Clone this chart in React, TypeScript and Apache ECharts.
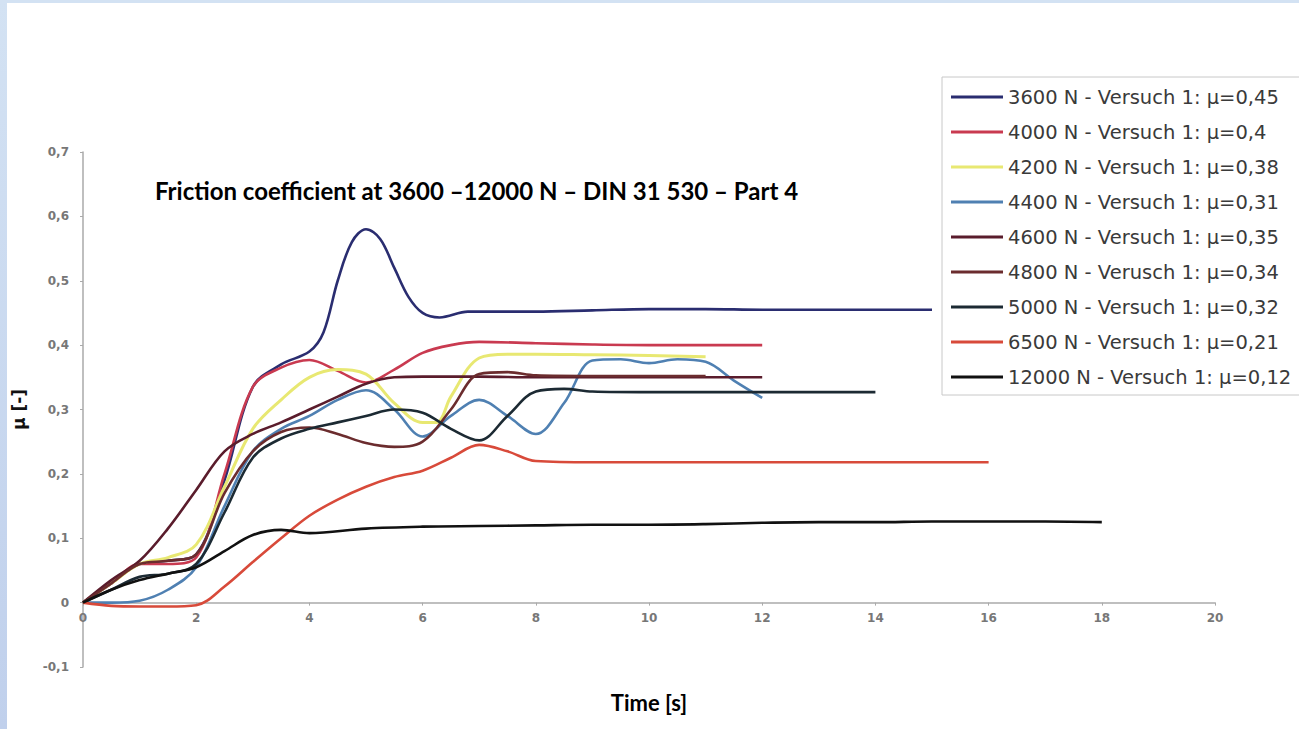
import React, { useEffect, useRef } from "react";
import * as echarts from "echarts";

const seriesNames = [
  "3600 N - Versuch 1: µ=0,45",
  "4000 N - Versuch 1: µ=0,4",
  "4200 N - Versuch 1: µ=0,38",
  "4400 N - Versuch 1: µ=0,31",
  "4600 N - Versuch 1: µ=0,35",
  "4800 N - Verusch 1: µ=0,34",
  "5000 N - Versuch 1: µ=0,32",
  "6500 N - Versuch 1: µ=0,21",
  "12000 N - Versuch 1: µ=0,12",
];
const seriesColors = ["#2a2d70", "#c93a50", "#e8e872", "#4f80b2", "#5a1c2c", "#6b2c2e", "#1c2a33", "#d84a3a", "#111111"];

const t3600 = [0, 0.5, 1, 1.5, 2, 2.5, 3, 3.5, 4, 4.25, 4.5, 4.75, 5, 5.25, 5.5, 5.75, 6, 6.3, 6.8, 7, 8, 9, 10, 11, 12, 13, 14, 15];
const mu3600 = [0, 0.03, 0.06, 0.065, 0.075, 0.19, 0.335, 0.37, 0.39, 0.42, 0.5, 0.56, 0.58, 0.565, 0.52, 0.475, 0.45, 0.443, 0.452, 0.452, 0.452, 0.454, 0.456, 0.456, 0.455, 0.455, 0.455, 0.455];

const t4000 = [0, 0.5, 1, 1.5, 2, 2.5, 3, 3.5, 4, 4.5, 5, 5.5, 6, 6.5, 7, 8, 9, 10, 11, 12];
const mu4000 = [0, 0.03, 0.06, 0.06, 0.07, 0.2, 0.335, 0.365, 0.377, 0.36, 0.342, 0.362, 0.388, 0.4, 0.405, 0.403, 0.401, 0.4, 0.4, 0.4];

const t4200 = [0, 0.5, 1, 1.5, 2, 2.5, 3, 3.5, 4, 4.5, 5, 5.5, 6, 6.25, 6.5, 7, 7.5, 8, 9, 10, 11];
const mu4200 = [0, 0.03, 0.06, 0.07, 0.09, 0.18, 0.27, 0.315, 0.35, 0.362, 0.355, 0.31, 0.28, 0.28, 0.32, 0.38, 0.386, 0.386, 0.385, 0.384, 0.382];

const t4400 = [0, 0.5, 1, 1.5, 2, 2.5, 3, 3.5, 4, 4.5, 5, 5.5, 6, 6.5, 7, 7.5, 8, 8.5, 9, 9.5, 10, 10.5, 11, 11.5, 12];
const mu4400 = [0, 0, 0.003, 0.02, 0.055, 0.15, 0.235, 0.27, 0.29, 0.315, 0.33, 0.3, 0.258, 0.29, 0.315, 0.29, 0.262, 0.31, 0.376, 0.378, 0.372, 0.378, 0.374, 0.345, 0.318];

const t4600 = [0, 0.5, 1, 1.5, 2, 2.5, 3, 3.5, 4, 4.5, 5, 5.5, 6, 7, 8, 9, 10, 11, 12];
const mu4600 = [0, 0.035, 0.065, 0.115, 0.175, 0.235, 0.262, 0.28, 0.3, 0.32, 0.34, 0.35, 0.351, 0.351, 0.35, 0.35, 0.35, 0.35, 0.35];

const t4800 = [0, 0.5, 1, 1.5, 2, 2.5, 3, 3.5, 4, 4.5, 5, 5.5, 6, 6.5, 7, 7.5, 8, 9, 10, 11];
const mu4800 = [0, 0.03, 0.06, 0.065, 0.075, 0.17, 0.235, 0.265, 0.272, 0.262, 0.248, 0.242, 0.25, 0.3, 0.355, 0.358, 0.353, 0.352, 0.352, 0.352];

const t5000 = [0, 0.5, 1, 1.5, 2, 2.5, 3, 3.5, 4, 4.5, 5, 5.5, 6, 6.5, 7, 7.5, 8, 8.5, 9, 10, 11, 12, 13, 14];
const mu5000 = [0, 0.02, 0.04, 0.045, 0.06, 0.14, 0.225, 0.255, 0.27, 0.28, 0.29, 0.3, 0.295, 0.27, 0.252, 0.29, 0.328, 0.332, 0.328, 0.327, 0.327, 0.327, 0.327, 0.327];

const t6500 = [0, 0.5, 1, 1.5, 2, 2.5, 3, 3.5, 4, 4.5, 5, 5.5, 6, 6.5, 7, 7.5, 8, 9, 10, 11, 12, 13, 14, 15, 16];
const mu6500 = [0, -0.005, -0.006, -0.006, -0.004, 0.025, 0.063, 0.1, 0.135, 0.16, 0.18, 0.195, 0.205, 0.225, 0.245, 0.235, 0.22, 0.218, 0.218, 0.218, 0.218, 0.218, 0.218, 0.218, 0.218];

const t12000 = [0, 0.5, 1, 1.5, 2, 2.5, 3, 3.5, 4, 5, 6, 7, 8, 9, 10, 11, 12, 13, 14, 15, 16, 17, 18];
const mu12000 = [0, 0.02, 0.035, 0.045, 0.055, 0.08, 0.105, 0.113, 0.108, 0.115, 0.118, 0.119, 0.12, 0.121, 0.121, 0.122, 0.124, 0.125, 0.125, 0.126, 0.126, 0.126, 0.125];

const seriesTimes = [t3600, t4000, t4200, t4400, t4600, t4800, t5000, t6500, t12000];
const seriesValues = [mu3600, mu4000, mu4200, mu4400, mu4600, mu4800, mu5000, mu6500, mu12000];

const chartTitle = "Friction coefficient at 3600 \u201312000 N \u2013 DIN 31 530 \u2013 Part 4";
const xAxisTitle = "Time [s]";
const yAxisTitle = "µ [-]";

const Y_MIN = -0.1;
const Y_MAX = 0.7;
const GRID_TOP = 152;
const GRID_BOTTOM = 62;
const CHART_H = 729;

export default function App() {
  const ref = useRef<HTMLDivElement>(null);
  useEffect(() => {
    if (!ref.current) return;
    const chart = echarts.init(ref.current, null, { renderer: "svg" });
    const plotH = CHART_H - GRID_TOP - GRID_BOTTOM;
    const zeroOffset = -plotH * (0 - Y_MIN) / (Y_MAX - Y_MIN);
    const series = seriesNames.map((name, i) => ({
      name,
      type: "line",
      smooth: 0.35,
      symbol: "none",
      data: seriesTimes[i].map((t, j) => [t, seriesValues[i][j]]),
      lineStyle: { color: seriesColors[i], width: i === 2 ? 3 : 2.6 },
      itemStyle: { color: seriesColors[i] },
    }));
    chart.setOption({
      animation: false,
      backgroundColor: "#ffffff",
      title: {
        text: chartTitle,
        left: 150,
        top: 173,
        textStyle: { fontFamily: "Lato", fontWeight: "bold", fontSize: 24, color: "#000" },
      },
      graphic: [
        {
          type: "rect",
          shape: { x: 0, y: 0, width: 7, height: 729 },
          style: {
            fill: { type: "linear", x: 0, y: 0, x2: 0, y2: 1, colorStops: [{ offset: 0, color: "#d3e2f3" }, { offset: 1, color: "#c0d0ec" }] },
          },
        },
        {
          type: "rect",
          shape: { x: 0, y: 0, width: 1299, height: 3 },
          style: { fill: "#d3e2f3" },
        },
      ],
      legend: {
        orient: "vertical",
        left: 942,
        top: 77,
        padding: [10, 16, 8, 9],
        itemWidth: 52,
        itemHeight: 3,
        itemGap: 15,
        icon: "rect",
        borderColor: "#c8c8c8",
        borderWidth: 1,
        textStyle: { fontFamily: "DejaVu Sans", fontSize: 19.5, color: "#3a3a3a", lineHeight: 20 },
        data: seriesNames,
      },
      grid: { left: 83, right: 84, top: GRID_TOP, bottom: GRID_BOTTOM, outerBoundsMode: "none" },
      xAxis: {
        type: "value",
        min: 0,
        max: 20,
        interval: 2,
        position: "bottom",
        offset: zeroOffset,
        name: xAxisTitle,
        nameLocation: "middle",
        nameGap: 89,
        nameTextStyle: { fontFamily: "Lato", fontWeight: "bold", fontSize: 22, color: "#000" },
        axisLine: { onZero: false, lineStyle: { color: "#aaaaaa", width: 1.5 } },
        axisTick: { show: true, length: 3, lineStyle: { color: "#aaaaaa" } },
        axisLabel: { margin: 9, fontFamily: "DejaVu Sans", fontWeight: "bold", fontSize: 12, color: "#777" },
        splitLine: { show: false },
      },
      yAxis: {
        type: "value",
        min: Y_MIN,
        max: Y_MAX,
        interval: 0.1,
        name: yAxisTitle,
        nameLocation: "middle",
        nameRotate: 90,
        nameGap: 56,
        nameTextStyle: { fontFamily: "DejaVu Sans", fontWeight: "bold", fontSize: 17, color: "#111" },
        axisLine: { show: true, onZero: false, lineStyle: { color: "#aaaaaa", width: 1.5 } },
        axisTick: { show: true, length: 3, lineStyle: { color: "#aaaaaa" } },
        axisLabel: {
          margin: 14,
          fontFamily: "DejaVu Sans",
          fontWeight: "bold",
          fontSize: 12,
          color: "#777",
          formatter: (v: number) => {
            const r = Math.round(v * 10) / 10;
            return r === 0 ? "0" : r.toFixed(1).replace(".", ",");
          },
        },
        splitLine: { show: false },
      },
      series,
    });
    return () => chart.dispose();
  }, []);
  return (
    <div style={{ position: "fixed", left: 0, top: 0, width: 1299, height: 729 }}>
      <div ref={ref} style={{ width: 1299, height: 729 }} />
    </div>
  );
}
